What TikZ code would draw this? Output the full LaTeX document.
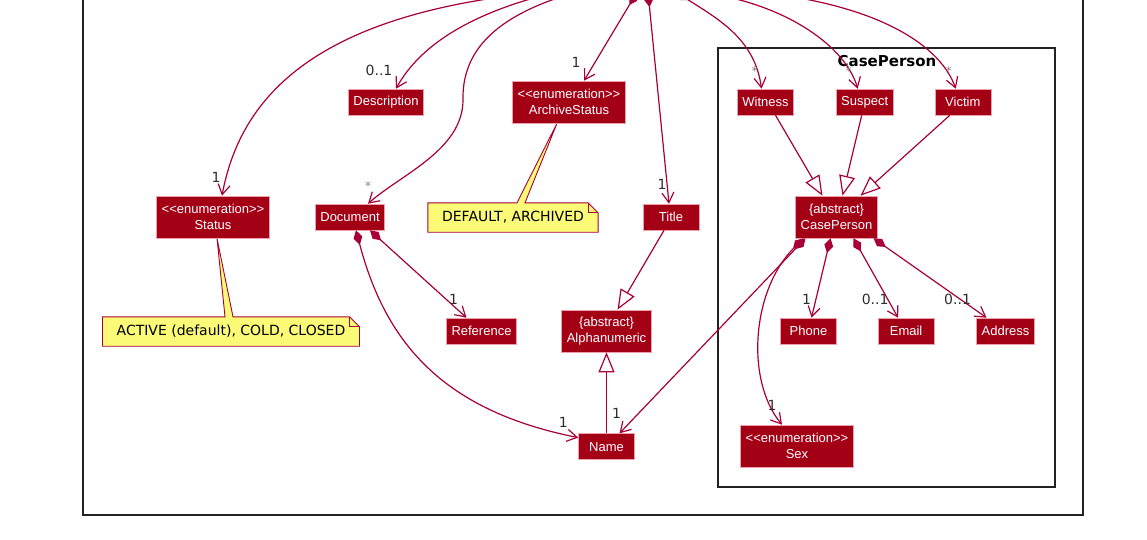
\documentclass[tikz,border=0pt]{standalone}
\usepackage{fontspec}
\setmainfont{Liberation Sans}[Ligatures=TeXOff]
\newfontfamily\notefont{DejaVu Sans}[Ligatures=TeXOff]
\usepackage{tikz}
\usetikzlibrary{calc,arrows.meta,positioning,backgrounds}

\definecolor{classfill}{RGB}{163,0,22}
\definecolor{classedge}{RGB}{236,160,172}
\definecolor{linkred}{RGB}{168,0,54}
\definecolor{noteyellow}{RGB}{251,251,119}
\definecolor{framegray}{RGB}{34,34,34}
\definecolor{multgray}{RGB}{45,45,45}

\begin{document}
\begin{tikzpicture}[x=1pt,y=-1pt,
	entity/.style={rectangle,draw=classedge,line width=0.6pt,fill=classfill,text=white,inner xsep=5pt,inner ysep=3pt,minimum height=26pt,minimum width=56pt,align=center,font=\fontsize{13}{15.5}\selectfont},
	entityTwo/.style={entity,minimum height=42pt},
	noteText/.style={rectangle,inner xsep=14pt,inner ysep=0pt,minimum height=29pt,font=\notefont\fontsize{14}{16}\selectfont},
	noteShape/.style={draw=linkred,fill=noteyellow,line width=0.9pt,line join=miter},
	mult/.style={text=multgray,inner sep=0pt,font=\notefont\fontsize{14}{16}\selectfont},
	manyLabel/.style={text=gray,inner sep=0pt,font=\notefont\fontsize{12}{14}\selectfont},
	paths/.style={-{Straight Barb[length=10pt,width=12pt]},draw=linkred,line width=1.2pt},
	comp/.style={{Diamond[length=15pt,width=9pt]}-{Straight Barb[length=10pt,width=12pt]},draw=linkred,line width=1.2pt},
	inherit/.style={-{Triangle[open,length=20pt,width=16pt,fill=white]},draw=linkred,line width=1.2pt},
	pkgframe/.style={rectangle,draw=framegray,line width=1.5pt,inner sep=0pt}
	] % End of the class diagram pieces

\useasboundingbox (0,0) rectangle (1147,539);
\clip (0,0) rectangle (1147,539);

% frames
\node [pkgframe,minimum width=1000pt,minimum height=540pt] (outer) at (583,245) {};
\node [pkgframe,minimum width=337pt,minimum height=439pt] (pkg) at (886.5,267.5) {};
\node [inner sep=0pt,font=\notefont\bfseries\fontsize{15}{17}\selectfont] (pkgTitle) at (887,61) {CasePerson};

% the case class sits above the page
\node [inner sep=0pt,minimum width=300pt,minimum height=20pt] (case) at (640,-18) {};

\node [entity]    (desc)    at (386,102) {Description};
\node [entityTwo] (archive) at (569,102) {<<enumeration>>\\ArchiveStatus};
\node [entity]    (witness) at (765.5,102) {Witness};
\node [entity]    (suspect) [right=42pt of witness] {Suspect};
\node [entity]    (victim)  [right=41pt of suspect] {Victim};

\node [entityTwo] (status)  at (213,217) {<<enumeration>>\\Status};
\node [entity]    (doc)     at (350,217) {Document};
\node [noteText]  (defaultNote) at (513,217.5) {DEFAULT, ARCHIVED};
\node [entity]    (title)   at (671,217) {Title};
\node [entityTwo] (person)  at (836.5,217) {\{abstract\}\\CasePerson};

\node [noteText]  (activeNote) at (231,331.5) {ACTIVE (default), COLD, CLOSED};
\node [entity]    (ref)     at (481.5,331) {Reference};
\node [entityTwo] (alnum)   at (606.5,331) {\{abstract\}\\Alphanumeric};
\node [entity]    (phone)   at (808.5,331) {Phone};
\node [entity]    (email)   [right=41pt of phone] {Email};
\node [entity]    (address) [right=42pt of email] {Address};

\node [entity]    (name)    [below=81pt of alnum] {Name};
\node [entityTwo] (sex)     at (797,446) {<<enumeration>>\\Sex};

% note outlines
\coordinate (aw1) at ([xshift=12]status.south);
\coordinate (aw2) at ([xshift=20]status.south);
\coordinate (dw1) at ([xshift=-52]archive.south);
\coordinate (dw2) at ([xshift=-44]archive.south);
\begin{scope}[on background layer]
\draw [noteShape] (activeNote.north west) -- (aw1 |- activeNote.north) -- ([xshift=4]status.south) -- (aw2 |- activeNote.north) -- ([xshift=-10]activeNote.north east) -- ([yshift=-10]activeNote.north east) -- (activeNote.south east) -- (activeNote.south west) -- cycle;
\draw [noteShape,fill=none] ([xshift=-10]activeNote.north east) |- ([yshift=-10]activeNote.north east);
\draw [noteShape] (defaultNote.north west) -- (dw1 |- defaultNote.north) -- ([xshift=-12]archive.south) -- (dw2 |- defaultNote.north) -- ([xshift=-10]defaultNote.north east) -- ([yshift=-10]defaultNote.north east) -- (defaultNote.south east) -- (defaultNote.south west) -- cycle;
\draw [noteShape,fill=none] ([xshift=-10]defaultNote.north east) |- ([yshift=-10]defaultNote.north east);
\end{scope}

% links from the case
\draw [comp] ([xshift=-100]case.south) .. controls (310,18) and (240,100) .. ([xshift=9]status.north) node[mult,xshift=-6,yshift=18] {1};
\draw [comp] ([xshift=-85]case.south) .. controls (470,15) and (420,45) .. ([xshift=10]desc.north) node[mult,xshift=-17,yshift=18] {0..1};
\draw [comp] ([xshift=-65]case.south) .. controls (490,20) and (462,55) .. (463,100) .. controls (463,150) and (400,175) .. ([xshift=18]doc.north) node[manyLabel,yshift=18] {*};
\draw [comp] ([xshift=-3]case.south) -- ([xshift=15]archive.north) node[mult,xshift=-8,yshift=18] {1};
\draw [comp] ([xshift=8]case.south) -- ([xshift=-2]title.north) node[mult,xshift=-7,yshift=19] {1};
\draw [comp] ([xshift=36]case.south) .. controls (720,20) and (755,40) .. ([xshift=-4]witness.north) node[manyLabel,xshift=-7,yshift=18] {*};
\draw [comp] ([xshift=60]case.south) .. controls (785,6) and (845,45) .. ([xshift=-7]suspect.north) node[manyLabel,xshift=-9,yshift=18] {*};
\draw [comp] ([xshift=120]case.south) .. controls (880,8) and (940,45) .. ([xshift=-7]victim.north) node[manyLabel,xshift=-7,yshift=18] {*};

% document parts
\draw [comp] ([xshift=20]doc.south) -- ([xshift=-15]ref.north) node[mult,xshift=-13,yshift=18] {1};
\draw [comp] ([xshift=6]doc.south) .. controls (385,340) and (440,410) .. ([yshift=9]name.west) node[mult,xshift=-15,yshift=15] {1};

% alphanumeric values
\draw [inherit] ([xshift=-7]title.south) -- ([xshift=11]alnum.north);
\draw [inherit] (name.north) -- (alnum.south);

% case person
\draw [inherit] ([xshift=10]witness.south) -- ([xshift=-14]person.north);
\draw [inherit] ([xshift=-3]suspect.south) -- ([xshift=6]person.north);
\draw [inherit] ([xshift=-13]victim.south) -- ([xshift=24]person.north);

\draw [comp] ([xshift=-31]person.south) -- ([xshift=13]name.north) node[mult,xshift=-3,yshift=20] {1};
\draw [comp] ([xshift=-33]person.south) .. controls (752,290) and (745,380) .. ([xshift=-15]sex.north) node[mult,xshift=-10,yshift=19] {1};
\draw [comp] ([xshift=-6]person.south) -- ([xshift=3]phone.north) node[mult,xshift=-5,yshift=18] {1};
\draw [comp] ([xshift=17]person.south) -- ([xshift=-8]email.north) node[mult,xshift=-23,yshift=18] {0..1};
\draw [comp] ([xshift=37]person.south) -- ([xshift=-19]address.north) node[mult,xshift=-29,yshift=18] {0..1};
\end{tikzpicture}
\end{document}
